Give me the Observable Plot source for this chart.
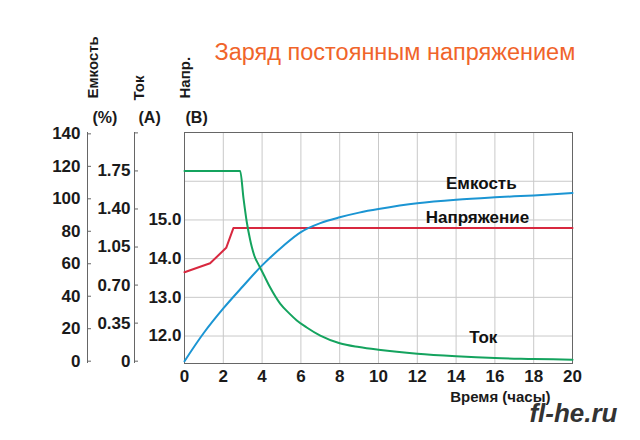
<!DOCTYPE html>
<html><head><meta charset="utf-8">
<script src="https://cdn.jsdelivr.net/npm/d3@7"></script>
<script src="https://cdn.jsdelivr.net/npm/@observablehq/plot@0.6"></script>
<style>
body{margin:0;background:#fff;font-family:"Liberation Sans",Arial,sans-serif}
#chart svg{display:block}
</style>
</head><body><div id="chart"></div>
<script>
// ---- data ----
const capacityHours = [0, 1, 2, 3, 4, 5, 6, 7, 8, 9, 10, 12, 14, 16, 18, 20];
const capacityPct   = [0, 17.5, 32.5, 46, 59, 70, 79.5, 85, 88.6, 91.5, 93.7, 97.2, 99.4, 100.9, 102.1, 103.6];

const currentHours = [0, 2.87, 3.04, 3.21, 3.38, 3.47, 3.6, 3.81, 4.07, 4.41, 4.93, 5.4, 5.79, 6.3, 7, 8, 9, 10, 12, 14, 16, 18, 20];
const currentAmps  = [1.75, 1.75, 1.50, 1.28, 1.12, 1.05, 0.97, 0.89, 0.80, 0.68, 0.53, 0.44, 0.375, 0.31, 0.235, 0.165, 0.13, 0.105, 0.068, 0.045, 0.029, 0.021, 0.013];

const voltageHours = [0, 1.32, 2.15, 2.52, 20];
const voltageVolts = [13.65, 13.88, 14.28, 14.79, 14.79];

const hourTicks = [0, 2, 4, 6, 8, 10, 12, 14, 16, 18, 20];
const voltageTicks = [12, 13, 14, 15];
const voltageGrid = [12, 13, 14, 15, 16];
const capacityTicks = [0, 20, 40, 60, 80, 100, 120, 140];
const currentTicks = [0, 0.35, 0.70, 1.05, 1.40, 1.75, 2.10];
const currentTickLabels = ["0", "0.35", "0.70", "1.05", "1.40", "1.75", ""];

const seriesNames = ["Емкость", "Напряжение", "Ток"];
const seriesLabelHours = [15.3, 15.1, 15.4];
const seriesLabelVolts = [15.94, 15.06, 11.96];

const axisHeads = ["Емкость", "Ток", "Напр."];
const axisUnits = ["(%)", "(A)", "(B)"];
const titleText = "Заряд постоянным напряжением";
const xLabel = "Время (часы)";
const watermark = "fl-he.ru";

// ---- secondary axes mapped onto the voltage scale ----
const capToV = d3.scaleLinear([0, 140], [11.35, 17.225]);
const curToV = d3.scaleLinear([0, 2.10], [11.35, 17.25]);

const capacity = capacityHours.map((h, i) => ({h, v: capToV(capacityPct[i])}));
const current = currentHours.map((h, i) => ({h, v: curToV(currentAmps[i])}));
const voltage = voltageHours.map((h, i) => ({h, v: voltageVolts[i]}));
const seriesLabels = seriesNames.map((t, i) => ({t, h: seriesLabelHours[i], v: seriesLabelVolts[i]}));

const RED = "#d8283f", BLUE = "#1b95d3", GREEN = "#14a35e", AX = "#666", INK = "#1a1a1a";
const bold = {fontSize: 17, fontWeight: "bold", fill: INK};
const head = {frameAnchor: "top-left", fontWeight: "bold", fill: INK};

const capOff = -97, curOff = -50;

const chart = Plot.plot({
  width: 640, height: 440,
  marginLeft: 184, marginRight: 68, marginTop: 132, marginBottom: 77,
  x: {domain: [0, 20], label: null},
  y: {domain: [11.29, 17.26], label: null},
  style: {fontFamily: '"Liberation Sans", Arial, sans-serif', background: "#fff"},
  marks: [
    Plot.gridX(hourTicks, {stroke: "#c9c9c9", strokeOpacity: 1}),
    Plot.gridY(voltageGrid, {stroke: "#c9c9c9", strokeOpacity: 1}),
    Plot.frame({stroke: AX}),
    Plot.line(voltage, {x: "h", y: "v", stroke: RED, strokeWidth: 2}),
    Plot.line(capacity, {x: "h", y: "v", stroke: BLUE, strokeWidth: 2, curve: "catmull-rom"}),
    Plot.line(current, {x: "h", y: "v", stroke: GREEN, strokeWidth: 2, curve: "monotone-x"}),
    // voltage axis (frame left)
    Plot.axisY(voltageTicks, {anchor: "left", tickSize: 0, tickPadding: 3, tickFormat: d => d.toFixed(1), ...bold, label: null}),
    // x axis
    Plot.axisX(hourTicks, {anchor: "bottom", tickSize: 0, tickPadding: 6, ...bold, label: null}),
    // current axis
    Plot.ruleX([0], {dx: curOff, stroke: AX}),
    Plot.axisY(currentTicks.map(curToV), {anchor: "left", tickSize: 4, dx: curOff + 4, tickFormat: () => "", stroke: AX, label: null}),
    Plot.axisY(currentTicks.map(curToV), {anchor: "left", tickSize: 0, tickPadding: 0, dx: curOff - 4, tickFormat: (d, i) => currentTickLabels[i], ...bold, label: null}),
    // capacity axis
    Plot.ruleX([0], {dx: capOff, stroke: AX}),
    Plot.axisY(capacityTicks.map(capToV), {anchor: "left", tickSize: 4, dx: capOff + 4, tickFormat: () => "", stroke: AX, label: null}),
    Plot.axisY(capacityTicks.map(capToV), {anchor: "left", tickSize: 0, tickPadding: 0, dx: capOff - 7, tickFormat: (d, i) => String(capacityTicks[i]), ...bold, label: null}),
    // series labels
    Plot.text(seriesLabels, {x: "h", y: "v", text: "t", ...bold, fill: "#111"}),
    // axis headers
    Plot.text([axisHeads[0]], {...head, dx: 87 - 184, dy: 98 - 132, rotate: -90, textAnchor: "start", fontSize: 15}),
    Plot.text([axisHeads[1]], {...head, dx: 133 - 184, dy: 100 - 132, rotate: -90, textAnchor: "start", fontSize: 15}),
    Plot.text([axisHeads[2]], {...head, dx: 179 - 184, dy: 98 - 132, rotate: -90, textAnchor: "start", fontSize: 15}),
    Plot.text([axisUnits[0]], {...head, dx: 92 - 184, dy: 111 - 132, fontSize: 16}),
    Plot.text([axisUnits[1]], {...head, dx: 138 - 184, dy: 111 - 132, fontSize: 16}),
    Plot.text([axisUnits[2]], {...head, dx: 185 - 184, dy: 111 - 132, fontSize: 16}),
    // title
    Plot.text([titleText], {frameAnchor: "top-left", dx: 214 - 184, dy: 43 - 132, textAnchor: "start", fontSize: 23.5, fill: "#f0642a"}),
    // x label + watermark
    Plot.text([xLabel], {frameAnchor: "bottom-right", dx: 550 - 572, dy: 401 - 363, textAnchor: "end", fontSize: 15, fontWeight: "bold", fill: INK}),
    Plot.text([watermark], {frameAnchor: "bottom-right", dx: 617 - 572, dy: 421 - 363, textAnchor: "end", fontSize: 26, fontWeight: "bold", fontStyle: "italic", fill: "#333"})
  ]
});
document.getElementById("chart").appendChild(chart);
</script>
</body></html>
